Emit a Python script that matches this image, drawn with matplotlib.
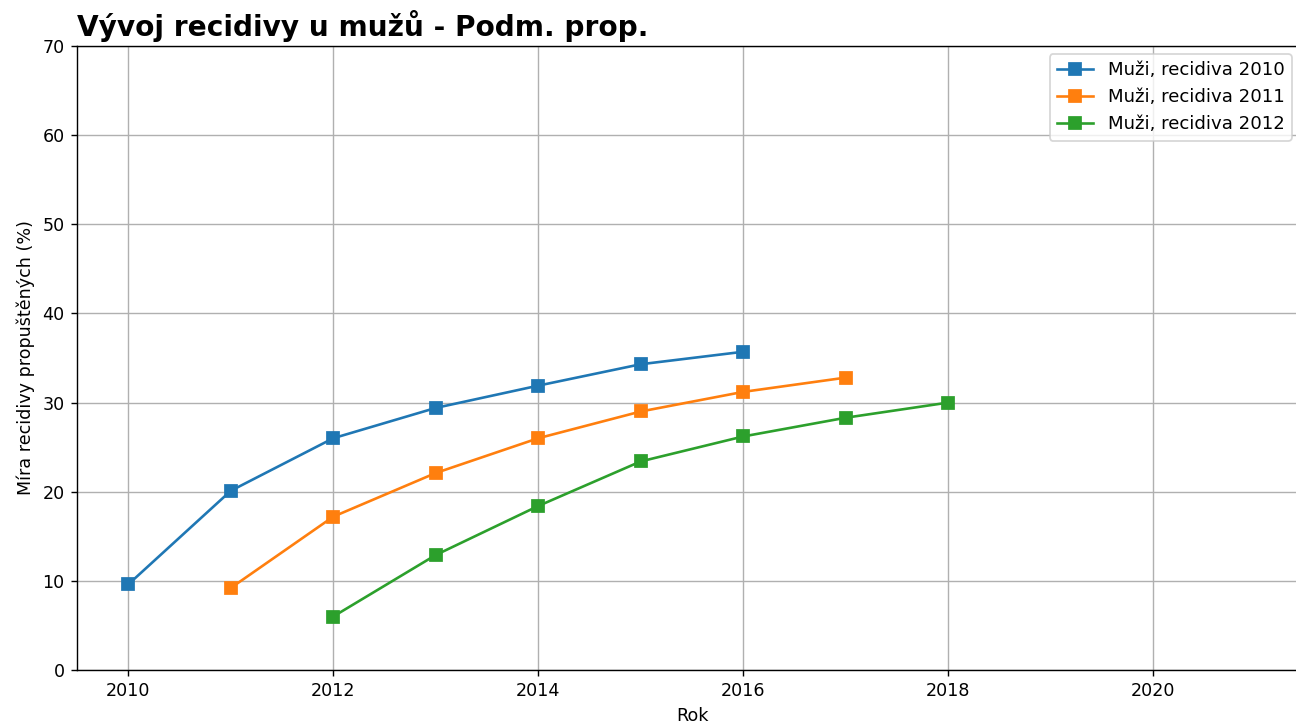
import numpy as np
import matplotlib.pyplot as plt

years_2010 = [2010, 2011, 2012, 2013, 2014, 2015, 2016]
rate_2010 = [9.6, 20.1, 26.0, 29.4, 31.9, 34.3, 35.7]

years_2011 = [2011, 2012, 2013, 2014, 2015, 2016, 2017]
rate_2011 = [9.2, 17.2, 22.1, 26.0, 29.0, 31.2, 32.8]

years_2012 = [2012, 2013, 2014, 2015, 2016, 2017, 2018]
rate_2012 = [6.0, 12.9, 18.4, 23.4, 26.2, 28.3, 30.0]

labels = ['Muži, recidiva 2010', 'Muži, recidiva 2011', 'Muži, recidiva 2012']


if __name__ == '__main__':
    dpi = 126
    fig = plt.figure(figsize=(1296 / dpi, 724 / dpi), dpi=dpi)
    # osy jsou vpravo oříznuté jako v originále
    ax = fig.add_axes([77 / 1296, 1 - 670 / 724, (1307 - 77) / 1296, (670 - 46) / 724])

    for x, y, lab in zip([years_2010, years_2011, years_2012],
                         [rate_2010, rate_2011, rate_2012], labels):
        ax.plot(x, y, marker='s', markersize=6.5, label=lab)

    ax.set_xlim(2009.5, 2021.5)
    ax.set_ylim(0, 70)
    ax.set_xlabel('Rok')
    ax.set_ylabel('Míra recidivy propuštěných (%)')
    ax.set_title('Vývoj recidivy u mužů - Podm. prop.', loc='left',
                 fontsize=16, fontweight='bold')
    ax.grid(True)
    ax.legend(loc='upper right', bbox_to_anchor=(1292 / 1296, 1 - 54 / 724),
              bbox_transform=fig.transFigure, borderaxespad=0, fontsize=10.4)
    fig.savefig('out.png', dpi=dpi)
